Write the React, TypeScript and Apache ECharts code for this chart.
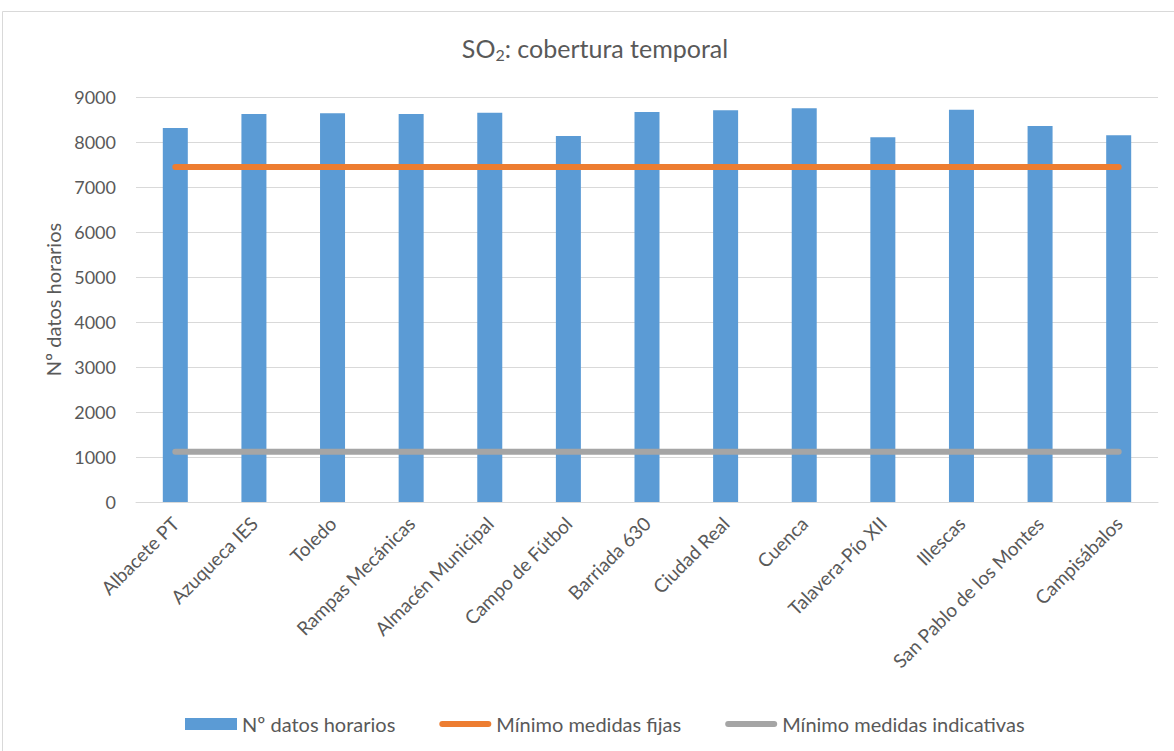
import React, { useEffect, useRef } from "react";
import * as echarts from "echarts";

const stations = [
  "Albacete PT",
  "Azuqueca IES",
  "Toledo",
  "Rampas Mecánicas",
  "Almacén Municipal",
  "Campo de Fútbol",
  "Barriada 630",
  "Ciudad Real",
  "Cuenca",
  "Talavera-Pío XII",
  "Illescas",
  "San Pablo de los Montes",
  "Campisábalos",
];

const hourlyData = [8311, 8622, 8637, 8622, 8651, 8133, 8667, 8704, 8748, 8104, 8719, 8356, 8148];
const fixedMinimum = 7446;
const indicativeMinimum = 1115;

const yTicks = [0, 1000, 2000, 3000, 4000, 5000, 6000, 7000, 8000, 9000];

const FONT = "Lato, 'Open Sans', sans-serif";
const TEXT = "#595959";

// Rounded bar used as the legend icon of the two threshold lines
const LINE_ICON = "path://M3,0 L49,0 A3,3 0 0 1 49,6 L3,6 A3,3 0 0 1 3,0 Z";

export default function App() {
  const ref = useRef<HTMLDivElement>(null);

  useEffect(() => {
    document.body.style.margin = "0";
    if (!ref.current) return;
    const chart = echarts.init(ref.current, undefined, { renderer: "svg" });
    chart.setOption({
      animation: false,
      backgroundColor: "#ffffff",
      textStyle: { fontFamily: FONT, color: TEXT },
      graphic: [
        {
          type: "rect",
          shape: { x: 2.5, y: 11.5, width: 1190, height: 760 },
          style: { fill: "none", stroke: "#d9d9d9", lineWidth: 1 },
          silent: true,
        },
        {
          type: "text",
          x: 595,
          y: 48,
          style: {
            text: "SO{sub|2}: cobertura temporal",
            fontFamily: FONT,
            fontSize: 25,
            fill: TEXT,
            align: "center",
            verticalAlign: "middle",
            rich: {
              sub: {
                fontFamily: FONT,
                fontSize: 16,
                fill: TEXT,
                padding: [12, 0, 0, 0],
              },
            },
          },
        },
      ],
      legend: {
        left: 180,
        top: 709,
        itemGap: 44,
        itemWidth: 52,
        itemHeight: 12,
        symbolKeepAspect: true,
        textStyle: { fontFamily: FONT, fontSize: 20, color: TEXT },
        data: [
          { name: "Nº datos horarios", icon: "rect" },
          { name: "Mínimo medidas fijas", icon: LINE_ICON },
          { name: "Mínimo medidas indicativas", icon: LINE_ICON },
        ],
      },
      grid: { left: 136, right: 16, top: 97, bottom: 249, containLabel: false },
      xAxis: {
        type: "category",
        data: stations,
        axisLine: { show: true, lineStyle: { color: "#d9d9d9", width: 1 } },
        axisTick: { show: false },
        axisLabel: {
          rotate: 45,
          interval: 0,
          margin: 18,
          fontFamily: FONT,
          fontSize: 19,
          color: TEXT,
        },
      },
      yAxis: {
        type: "value",
        min: 0,
        max: 9000,
        interval: 1000,
        name: "Nº datos horarios",
        nameLocation: "middle",
        nameGap: 72,
        nameTextStyle: { fontFamily: FONT, fontSize: 20, color: TEXT },
        axisLine: { show: false },
        axisTick: { show: false },
        axisLabel: {
          margin: 20,
          fontFamily: FONT,
          fontSize: 18,
          color: TEXT,
          formatter: (v: number) => (yTicks.includes(v) ? String(v) : ""),
        },
        splitLine: { lineStyle: { color: "#d9d9d9", width: 1 } },
      },
      series: [
        {
          name: "Nº datos horarios",
          type: "bar",
          data: hourlyData,
          barWidth: 25,
          itemStyle: { color: "#5b9bd5" },
        },
        {
          name: "Mínimo medidas fijas",
          type: "line",
          data: stations.map(() => fixedMinimum),
          symbol: "none",
          itemStyle: { color: "#ed7d31" },
          lineStyle: { color: "#ed7d31", width: 6, cap: "round" },
        },
        {
          name: "Mínimo medidas indicativas",
          type: "line",
          data: stations.map(() => indicativeMinimum),
          symbol: "none",
          itemStyle: { color: "#a5a5a5" },
          lineStyle: { color: "#a5a5a5", width: 6, cap: "round" },
        },
      ],
    });
    return () => chart.dispose();
  }, []);

  return <div ref={ref} style={{ width: 1174, height: 751 }} />;
}
